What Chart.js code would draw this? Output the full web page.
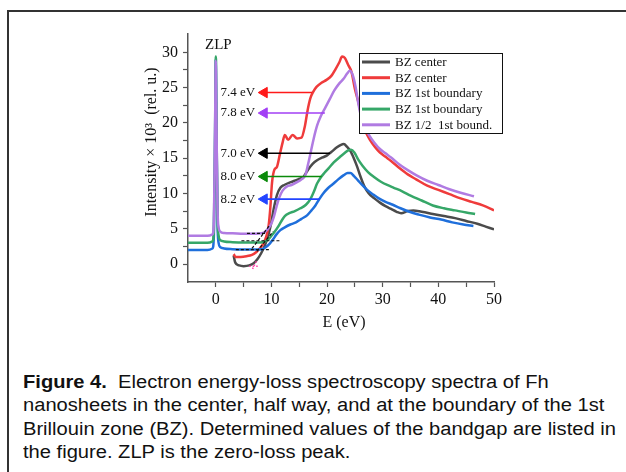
<!DOCTYPE html>
<html>
<head>
<meta charset="utf-8">
<script src="https://cdn.jsdelivr.net/npm/chart.js@4.4.1/dist/chart.umd.min.js"></script>
<style>
  html, body { margin: 0; padding: 0; background: #fff; overflow: hidden; }
  body { width: 626px; height: 472px; position: relative; }
  #frame { position: absolute; left: 7px; top: 10px; width: 700px; height: 600px; border: 2px solid #333; }
  #chart { position: absolute; left: 0; top: 0; }
  #caption {
    position: absolute; left: 23px; top: 371px;
    font: 18px/23.3px "Liberation Sans", Arial, sans-serif; color: #111;
    white-space: nowrap; transform: scaleX(1.118); transform-origin: 0 0;
  }
</style>
</head>
<body>
<div id="frame"></div>
<canvas id="chart" width="626" height="345"></canvas>
<div id="caption"><b>Figure 4.</b>&nbsp; Electron energy-loss spectroscopy spectra of Fh<br>nanosheets in the center, half way, and at the boundary of the 1st<br>Brillouin zone (BZ). Determined values of the bandgap are listed in<br>the figure. ZLP is the zero-loss peak.</div>
<script>
// spectra (E in eV, intensity x 10^3)
const blackE = [3.2, 3.5, 4.2, 5.0, 6.0, 6.8, 7.5, 8.2, 8.8, 9.4, 9.9, 10.4, 11.0, 11.6, 12.3, 13.5, 14.8, 15.8, 16.6, 17.4,
  18.2, 19.2, 20.0, 20.8, 21.7, 22.5, 23.0, 23.6, 24.2, 24.8, 25.4, 26.0, 26.7, 27.5, 28.5, 29.5, 30.5, 31.5, 32.5, 33.3,
  34.5, 35.5, 37.0, 39.0, 41.0, 43.0, 45.0, 47.0, 48.5, 50.0];
const blackI = [1.2, 0.2, -0.2, -0.3, -0.2, 0.1, 0.7, 1.6, 2.6, 4.0, 5.6, 7.8, 9.8, 10.8, 11.2, 11.6, 12.0, 12.4, 13.4, 14.2,
  14.7, 15.1, 15.4, 15.9, 16.5, 16.9, 17.0, 16.6, 16.0, 15.0, 13.8, 12.4, 11.0, 10.0, 9.3, 8.7, 8.2, 7.8, 7.4, 7.2,
  7.5, 7.6, 7.4, 7.1, 6.8, 6.5, 6.1, 5.7, 5.3, 4.9];

const redE = [3.2, 3.6, 4.5, 5.5, 6.5, 7.3, 8.0, 8.6, 9.1, 9.5, 9.8, 10.1, 10.5, 11.0, 11.5, 12.0, 12.4, 13.0, 13.8, 14.6,
  15.4, 16.0, 16.5, 17.0, 17.5, 18.1, 19.0, 19.9, 20.8, 21.5, 22.2, 22.7, 23.2, 23.8, 24.4, 25.0, 25.6, 26.2, 26.8, 27.7,
  28.6, 29.5, 30.5, 31.5, 33.0, 34.5, 36.0, 38.0, 40.0, 42.0, 44.0, 46.0, 48.0, 50.0];
const redI = [1.4, 1.0, 1.0, 1.1, 1.3, 1.7, 2.3, 3.0, 4.0, 5.5, 8.0, 11.5, 13.3, 13.8, 15.5, 17.2, 18.3, 17.6, 18.3, 17.8,
  17.9, 19.5, 21.8, 23.5, 24.4, 25.1, 25.7, 26.1, 26.7, 27.6, 28.6, 29.4, 29.2, 28.2, 27.2, 24.8, 23.0, 20.9, 19.0, 17.6,
  16.6, 15.8, 15.2, 14.6, 13.6, 12.7, 12.0, 11.1, 10.5, 9.9, 9.3, 8.8, 8.3, 7.6];

const blueE = [-5, -1.5, -0.6, -0.35, -0.15, 0, 0.12, 0.3, 0.5, 0.8, 1.5, 3, 5, 7, 8.3, 9.0, 9.7, 10.3, 10.9, 11.6,
  12.4, 13.4, 14.4, 15.4, 16.4, 17.2, 17.9, 18.6, 19.3, 20.1, 21.0, 22.0, 23.0, 23.7, 24.2, 24.8, 25.5, 26.3, 27.2, 28.2,
  29.3, 30.5, 31.8, 33.2, 34.8, 36.5, 38.5, 40.5, 42.5, 44.5, 46.3];
const blueI = [2.0, 2.0, 2.2, 4, 16, 29.0, 19, 6, 3.0, 2.4, 2.2, 2.1, 2.05, 2.05, 2.1, 2.4, 2.9, 3.5, 4.2, 4.8,
  5.2, 5.6, 5.9, 6.4, 6.9, 7.6, 8.3, 9.2, 10.0, 10.7, 11.3, 12.0, 12.6, 12.9, 12.9, 12.5, 11.9, 11.2, 10.5, 9.9,
  9.3, 8.8, 8.4, 7.9, 7.4, 7.0, 6.6, 6.3, 5.9, 5.6, 5.4];

const greenE = [-5, -1.5, -0.6, -0.35, -0.15, 0, 0.12, 0.3, 0.5, 0.8, 1.5, 3, 5, 7, 8.5, 9.3, 10.0, 10.6, 11.2, 11.8,
  12.4, 13.2, 14.2, 15.2, 16.2, 17.0, 17.6, 18.2, 18.8, 19.5, 20.3, 21.2, 22.2, 23.1, 23.8, 24.3, 24.9, 25.6, 26.4, 27.4,
  28.5, 29.6, 30.8, 32.0, 33.5, 35.0, 37.0, 39.0, 41.0, 43.0, 45.0, 46.6];
const greenI = [3.0, 3.0, 3.2, 5, 17, 29.4, 20, 7, 4.0, 3.4, 3.2, 3.1, 3.05, 3.05, 3.1, 3.4, 4.0, 4.6, 5.3, 6.1,
  6.8, 7.2, 7.5, 7.9, 8.4, 9.2, 10.2, 11.4, 12.2, 12.9, 13.6, 14.4, 15.1, 15.7, 16.1, 16.2, 15.8, 14.8, 13.9, 13.0,
  12.3, 11.7, 11.2, 10.8, 10.3, 9.7, 9.0, 8.3, 7.9, 7.6, 7.3, 7.1];

const purpleE = [-5, -1.5, -0.6, -0.35, -0.15, 0, 0.12, 0.3, 0.5, 0.8, 1.5, 3, 5, 7, 8.5, 9.3, 9.9, 10.4, 10.9, 11.4,
  12.0, 12.8, 13.6, 14.6, 15.4, 16.1, 16.6, 17.1, 17.6, 18.2, 18.9, 19.7, 20.5, 21.3, 22.2, 23.0, 23.6, 24.1, 24.6, 25.1,
  25.6, 26.2, 26.8, 27.6, 28.5, 29.5, 30.5, 31.5, 33.0, 34.5, 36.0, 38.0, 40.0, 42.0, 44.0, 46.4];
const purpleI = [4.0, 4.0, 4.2, 6, 18, 28.8, 20, 8, 5.2, 4.6, 4.4, 4.35, 4.3, 4.3, 4.4, 4.9, 5.6, 6.6, 8.1, 9.4,
  10.4, 11.0, 11.2, 11.6, 12.0, 12.6, 14.2, 16.0, 17.8, 19.6, 21.0, 22.2, 23.4, 24.6, 25.6, 26.3, 27.0, 27.4, 26.8, 25.2,
  22.8, 20.6, 19.4, 18.2, 17.2, 16.3, 15.7, 15.1, 14.1, 13.3, 12.6, 11.8, 11.2, 10.6, 10.1, 9.6];

const seriesLabels = ['BZ center', 'BZ center', 'BZ 1st boundary', 'BZ 1st boundary', 'BZ 1/2  1st bound.'];

// bandgap arrows
const arrowLabels = ['7.4 eV', '7.8 eV', '7.0 eV', '8.0 eV', '8.2 eV'];
const arrowY = [24.3, 21.4, 15.7, 12.4, 9.2];
const arrowHeadE = [8.7, 8.7, 8.7, 8.7, 8.7];
const arrowTailE = [17.3, 19.6, 20.5, 19.0, 18.7];

// tangent (onset) construction lines
const tangentE = [[5.6, 9.2], [4.6, 11.6], [3.6, 9.8], [6.5, 9.6], [7.4, 10.3]];
const tangentI = [[4.35, 4.35], [3.3, 3.3], [2.05, 2.05], [2.2, 5.4], [1.8, 4.6]];
const onsetE = [[6.0, 7.6], [6.6, 7.3]];
const onsetI = [[-0.3, -0.3], [-0.7, 0.4]];

const xTicks = [0, 5, 10, 15, 20, 25, 30, 35, 40, 45, 50];
const yTicks = [0, 2.5, 5, 7.5, 10, 12.5, 15, 17.5, 20, 22.5, 25, 27.5, 30];

const curveColors = ['#4b4b4b', '#ef3b3b', '#1f6fdb', '#36a768', '#b07be2'];
const arrowColors = ['#ff1a1a', '#a23ff5', '#000000', '#0a8a0a', '#2244ff'];
const serif = '"Liberation Serif", "Times New Roman", serif';

const pts = (E, I) => E.map((e, i) => ({ x: e, y: I[i] }));
const curves = [[blackE, blackI], [redE, redI], [blueE, blueI], [greenE, greenI], [purpleE, purpleI]];

const datasets = curves.map(([E, I], i) => ({
    label: seriesLabels[i],
    data: pts(E, I),
    borderColor: curveColors[i],
    borderWidth: 2.5,
    pointRadius: 0,
    cubicInterpolationMode: 'monotone',
    order: 20 - i,
    isCurve: true
}));

tangentE.forEach((E, i) => datasets.push({
    data: pts(E, tangentI[i]),
    borderColor: '#111', borderWidth: 1.2, borderDash: [3, 2],
    pointRadius: 0, order: 5
}));
onsetE.forEach((E, i) => datasets.push({
    data: pts(E, onsetI[i]),
    borderColor: '#ff3fa8', borderWidth: 1.5, borderDash: [1.5, 2],
    pointRadius: 0, order: 5
}));
arrowLabels.forEach((t, i) => datasets.push({
    data: [{ x: arrowHeadE[i], y: arrowY[i] }, { x: arrowTailE[i], y: arrowY[i] }],
    borderColor: arrowColors[i], borderWidth: 1.6,
    pointRadius: [6, 0], pointStyle: 'triangle', pointRotation: -90,
    pointBackgroundColor: arrowColors[i], pointBorderColor: arrowColors[i], pointBorderWidth: 1,
    order: 1
}));

const annotate = {
    id: 'annotate',
    afterDatasetsDraw(chart) {
        const { ctx, chartArea, scales: { x, y } } = chart;
        ctx.save();
        ctx.fillStyle = '#111';

        // arrow labels
        ctx.font = '13px ' + serif;
        ctx.textAlign = 'right';
        ctx.textBaseline = 'middle';
        arrowLabels.forEach((t, i) => {
            ctx.fillText(t, x.getPixelForValue(arrowHeadE[i]) - 9, y.getPixelForValue(arrowY[i]));
        });

        ctx.font = '15px ' + serif;
        ctx.textAlign = 'center';
        ctx.fillText('ZLP', x.getPixelForValue(0.45), y.getPixelForValue(31.0));

        // axis titles
        ctx.font = '16px ' + serif;
        ctx.fillText('E (eV)', (chartArea.left + chartArea.right) / 2 + 3, chartArea.bottom + 41);
        ctx.save();
        ctx.translate(chartArea.left - 36, (chartArea.top + chartArea.bottom) / 2 - 16);
        ctx.rotate(-Math.PI / 2);
        ctx.fillText('Intensity \u00d7 10\u00b3  (rel. u.)', 0, 0);
        ctx.restore();

        // legend box
        const lx = chartArea.right - 135, ly = chartArea.top + 19, lw = 143, lh = 80;
        ctx.fillStyle = '#fff';
        ctx.fillRect(lx, ly, lw, lh);
        ctx.strokeStyle = '#111';
        ctx.lineWidth = 1;
        ctx.strokeRect(lx + 0.5, ly + 0.5, lw, lh);
        ctx.font = '13px ' + serif;
        ctx.textAlign = 'left';
        chart.data.datasets.filter(d => d.isCurve).forEach((d, i) => {
            const ey = ly + 9 + i * 15.7;
            ctx.strokeStyle = d.borderColor;
            ctx.lineWidth = 3;
            ctx.beginPath();
            ctx.moveTo(lx + 3, ey);
            ctx.lineTo(lx + 31, ey);
            ctx.stroke();
            ctx.fillStyle = '#111';
            ctx.fillText(d.label, lx + 36, ey + 0.5);
        });
        ctx.restore();
    }
};

new Chart(document.getElementById('chart'), {
    type: 'line',
    data: { datasets: datasets },
    options: {
        responsive: false,
        animation: false,
        devicePixelRatio: 1,
        layout: { padding: { left: 140, top: 34, right: 132, bottom: 23 } },
        plugins: { legend: { display: false }, tooltip: { enabled: false } },
        scales: {
            x: {
                type: 'linear', min: -5, max: 50,
                afterFit: s => { s.height = 40; },
                afterBuildTicks: s => { s.ticks = xTicks.map(v => ({ value: v })); },
                grid: { drawOnChartArea: false, drawTicks: true, tickLength: 5, tickColor: '#555', tickWidth: 1.2 },
                border: { color: '#555', width: 1.5 },
                ticks: {
                    color: '#111', padding: 3, maxRotation: 0, autoSkip: false,
                    font: { family: serif, size: 16 },
                    callback: v => (v % 10 === 0 ? v : '')
                }
            },
            y: {
                type: 'linear', min: -2.55, max: 32.6,
                afterFit: s => { s.width = 48; },
                afterBuildTicks: s => { s.ticks = yTicks.map(v => ({ value: v })); },
                grid: { drawOnChartArea: false, drawTicks: true, tickLength: 5, tickColor: '#555', tickWidth: 1.2 },
                border: { color: '#555', width: 1.5 },
                ticks: {
                    color: '#111', padding: 5, autoSkip: false,
                    font: { family: serif, size: 16 },
                    callback: v => (v % 5 === 0 ? v : '')
                }
            }
        }
    },
    plugins: [annotate]
});
</script>
</body>
</html>
